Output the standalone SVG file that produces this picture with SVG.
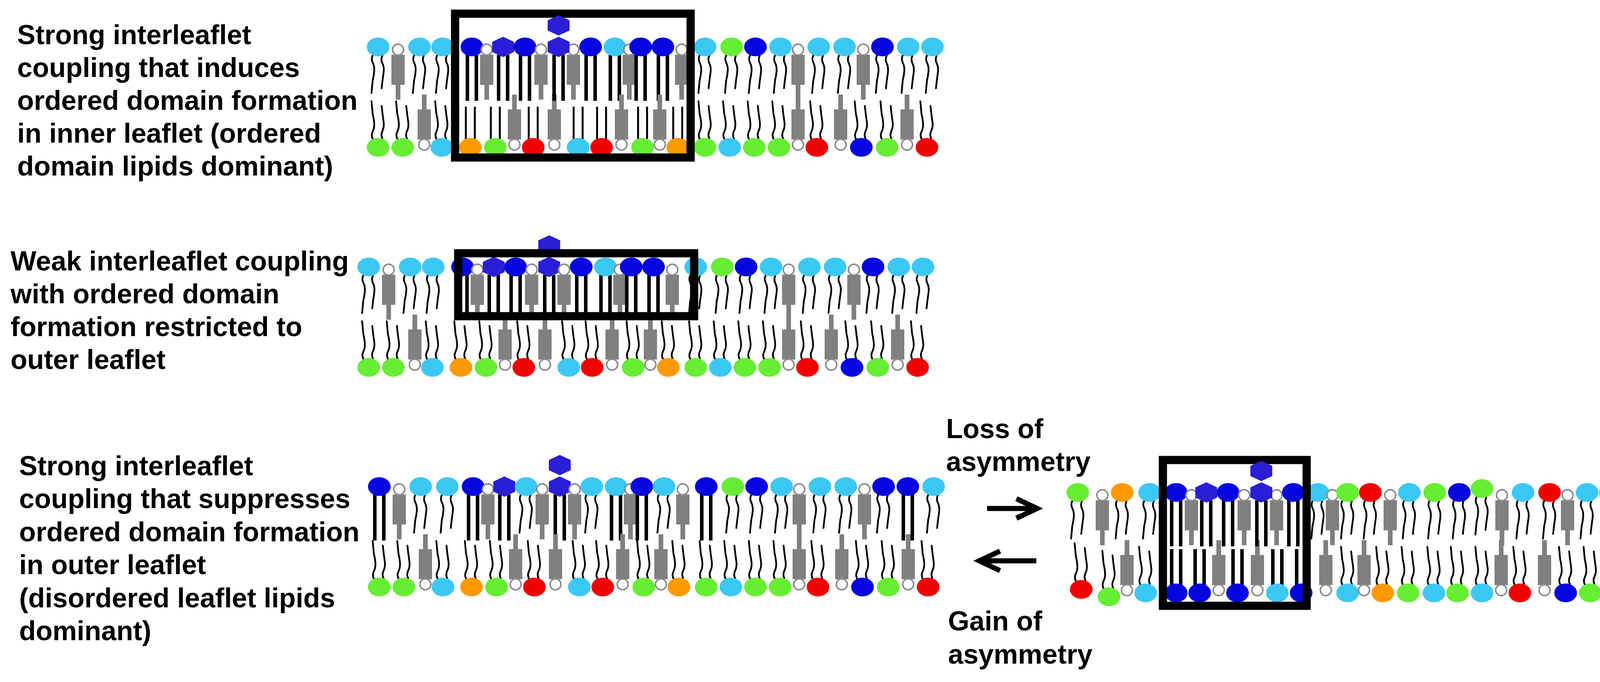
<svg xmlns="http://www.w3.org/2000/svg" xmlns:xlink="http://www.w3.org/1999/xlink" width="4249" height="1745" viewBox="0 0 4249 1745">
<style>
.lb{fill:#3cc8f4}.db{fill:#0505e0}.g{fill:#66ee33}.r{fill:#f20000}.o{fill:#ff9a00}
.t{font-family:"Liberation Sans",Arial,sans-serif;font-weight:bold;font-size:70px;fill:#000}
.tail{fill:none;stroke:#000;stroke-width:4.5;stroke-linecap:round}
.box{fill:none;stroke:#000;stroke-width:21}
.arr{fill:none;stroke:#000;stroke-width:13}
</style>
<defs>
<g id="D"><path class="tail" d="M-13,20 q-6,10 -1,20 t4,22 t-4,24 l-3,32"/><path class="tail" d="M11,22 q-5,10 0,20 t3,24 t-3,22 l-2,18"/><ellipse rx="29" ry="24"/></g>
<g id="O"><rect x="-16" y="20" width="9" height="118" fill="#000"/><rect x="7" y="20" width="9" height="118" fill="#000"/><ellipse rx="29" ry="24"/></g>
<g id="Os"><rect x="-16" y="20" width="9" height="97" fill="#000"/><rect x="7" y="20" width="9" height="97" fill="#000"/><ellipse rx="29" ry="24"/></g>
<g id="Oi"><rect x="-14" y="18" width="5" height="86" fill="#000"/><rect x="9" y="18" width="5" height="86" fill="#000"/><ellipse rx="29" ry="24"/></g>
<g id="Oi2"><rect x="-16" y="20" width="9" height="92" fill="#000"/><rect x="7" y="20" width="9" height="92" fill="#000"/><ellipse rx="29" ry="24"/></g>
<g id="C"><rect x="-17" y="20" width="34" height="77" fill="#808080"/><rect x="-6" y="97" width="12" height="38" fill="#808080"/><circle cy="7" r="14" fill="#fff" stroke="#8c8c8c" stroke-width="4"/></g>
<polygon id="hx" points="0,-26 28,-13 28,13 0,26 -28,13 -28,-13" fill="#2a1ed6"/>
<g id="X"><rect x="-16" y="20" width="9" height="118" fill="#000"/><rect x="7" y="20" width="9" height="118" fill="#000"/><use href="#hx"/></g>
<g id="Xs"><rect x="-16" y="20" width="9" height="97" fill="#000"/><rect x="7" y="20" width="9" height="97" fill="#000"/><use href="#hx"/></g>
<g id="XX"><use href="#X"/><use href="#hx" y="-55"/></g>
<g id="XXs"><use href="#Xs"/><use href="#hx" y="-55"/></g>
</defs>

<g id="labels">
<text class="t" x="44" y="113">Strong interleaflet</text>
<text class="t" x="44" y="197">coupling that induces</text>
<text class="t" x="44" y="281">ordered domain formation</text>
<text class="t" x="44" y="365">in inner leaflet (ordered</text>
<text class="t" x="44" y="449">domain lipids dominant)</text>
<text class="t" x="27" y="692">Weak interleaflet coupling</text>
<text class="t" x="27" y="776">with ordered domain</text>
<text class="t" x="27" y="860">formation restricted to</text>
<text class="t" x="27" y="944">outer leaflet</text>
<text class="t" x="49" y="1216">Strong interleaflet</text>
<text class="t" x="49" y="1300">coupling that suppresses</text>
<text class="t" x="49" y="1385">ordered domain formation</text>
<text class="t" x="49" y="1469">in outer leaflet</text>
<text class="t" x="49" y="1554">(disordered leaflet lipids</text>
<text class="t" x="49" y="1638">dominant)</text>
<text class="t" x="2422" y="1121">Loss of</text>
<text class="t" x="2422" y="1205">asymmetry</text>
<text class="t" x="2427" y="1613">Gain of</text>
<text class="t" x="2427" y="1698">asymmetry</text>
</g>

<g id="membrane1">
<g id="m1-top" transform="translate(0,120)">
<use href="#D" x="968" class="lb"/><use href="#C" x="1019"/><use href="#D" x="1074" class="lb"/><use href="#D" x="1133" class="lb"/>
<use href="#O" x="1208" class="db"/><use href="#C" x="1246"/><use href="#X" x="1288"/><use href="#O" x="1344" class="db"/><use href="#C" x="1385"/>
<use href="#C" x="1468"/><use href="#O" x="1512" class="db"/><use href="#O" x="1574" class="lb"/><use href="#C" x="1611"/><use href="#O" x="1640" class="db"/><use href="#O" x="1697" class="db"/><use href="#C" x="1745"/>
<use href="#D" x="1805" class="lb"/><use href="#D" x="1873" class="g"/><use href="#D" x="1934" class="db"/><use href="#D" x="1998" class="lb"/><use href="#C" x="2043"/><use href="#D" x="2096" class="lb"/><use href="#D" x="2162" class="lb"/><use href="#C" x="2210"/><use href="#D" x="2259" class="db"/><use href="#D" x="2325" class="lb"/><use href="#D" x="2387" class="lb"/>
</g>
<g id="m1-bot" transform="translate(0,377) scale(1,-1)">
<use href="#D" x="968" class="g"/><use href="#D" x="1031" class="g"/><use href="#C" x="1086"/><use href="#D" x="1131" class="lb"/>
<use href="#Oi" x="1204" class="o"/><use href="#Oi" x="1268" class="g"/><use href="#C" x="1317"/><use href="#Oi" x="1365" class="r"/><use href="#C" x="1419"/><use href="#Oi" x="1480" class="lb"/><use href="#Oi" x="1540" class="r"/><use href="#C" x="1591"/><use href="#Oi" x="1645" class="g"/><use href="#C" x="1689"/><use href="#Oi" x="1735" class="o"/>
<use href="#D" x="1805" class="g"/><use href="#D" x="1868" class="lb"/><use href="#D" x="1931" class="g"/><use href="#D" x="1994" class="g"/><use href="#C" x="2043"/><use href="#D" x="2091" class="r"/><use href="#C" x="2152"/><use href="#D" x="2205" class="db"/><use href="#D" x="2271" class="g"/><use href="#C" x="2322"/><use href="#D" x="2373" class="r"/>
</g>
<rect class="box" x="1165" y="35" width="603" height="368"/>
<use href="#XX" x="1430" y="120"/>
</g>

<g id="membrane2" transform="translate(-24,563)">
<g transform="translate(0,120)">
<use href="#D" x="968" class="lb"/><use href="#C" x="1019"/><use href="#D" x="1074" class="lb"/><use href="#D" x="1133" class="lb"/>
<use href="#Os" x="1208" class="db"/><use href="#C" x="1246"/><use href="#Xs" x="1288"/><use href="#Os" x="1344" class="db"/><use href="#C" x="1385"/><use href="#XXs" x="1430"/>
<use href="#C" x="1468"/><use href="#Os" x="1512" class="db"/><use href="#Os" x="1574" class="lb"/><use href="#C" x="1611"/><use href="#Os" x="1640" class="db"/><use href="#Os" x="1697" class="db"/><use href="#C" x="1745"/>
<use href="#D" x="1805" class="lb"/><use href="#D" x="1873" class="g"/><use href="#D" x="1934" class="db"/><use href="#D" x="1998" class="lb"/><use href="#C" x="2043"/><use href="#D" x="2096" class="lb"/><use href="#D" x="2162" class="lb"/><use href="#C" x="2210"/><use href="#D" x="2259" class="db"/><use href="#D" x="2325" class="lb"/><use href="#D" x="2387" class="lb"/>
</g>
<g transform="translate(0,377) scale(1,-1)">
<use href="#D" x="968" class="g"/><use href="#D" x="1031" class="g"/><use href="#C" x="1086"/><use href="#D" x="1131" class="lb"/>
<use href="#D" x="1204" class="o"/><use href="#D" x="1268" class="g"/><use href="#C" x="1317"/><use href="#D" x="1365" class="r"/><use href="#C" x="1419"/><use href="#D" x="1480" class="lb"/><use href="#D" x="1540" class="r"/><use href="#C" x="1591"/><use href="#D" x="1645" class="g"/><use href="#C" x="1689"/><use href="#D" x="1735" class="o"/>
<use href="#D" x="1805" class="g"/><use href="#D" x="1868" class="lb"/><use href="#D" x="1931" class="g"/><use href="#D" x="1994" class="g"/><use href="#C" x="2043"/><use href="#D" x="2091" class="r"/><use href="#C" x="2152"/><use href="#D" x="2205" class="db"/><use href="#D" x="2271" class="g"/><use href="#C" x="2322"/><use href="#D" x="2373" class="r"/>
</g>
<rect class="box" x="1197" y="85" width="604" height="161" stroke-width="22"/>
</g>

<g id="membrane3" transform="translate(3,1125)">
<g transform="translate(0,120)">
<use href="#O" x="968" class="db"/><use href="#C" x="1019"/><use href="#D" x="1074" class="lb"/><use href="#D" x="1142" class="lb"/>
<use href="#O" x="1208" class="db"/><use href="#C" x="1246"/><use href="#X" x="1288"/><use href="#D" x="1344" class="lb"/><use href="#C" x="1385"/><use href="#XX" x="1430"/>
<use href="#C" x="1468"/><use href="#D" x="1512" class="lb"/><use href="#O" x="1574" class="lb"/><use href="#C" x="1611"/><use href="#O" x="1640" class="db"/><use href="#D" x="1697" class="lb"/><use href="#C" x="1745"/>
<use href="#O" x="1805" class="db"/><use href="#D" x="1873" class="g"/><use href="#D" x="1934" class="db"/><use href="#D" x="1998" class="lb"/><use href="#C" x="2043"/><use href="#D" x="2096" class="lb"/><use href="#D" x="2162" class="lb"/><use href="#C" x="2210"/><use href="#D" x="2259" class="db"/><use href="#O" x="2321" class="db"/><use href="#D" x="2387" class="lb"/>
</g>
<g transform="translate(0,377) scale(1,-1)">
<use href="#D" x="968" class="g"/><use href="#D" x="1031" class="g"/><use href="#C" x="1086"/><use href="#D" x="1131" class="lb"/>
<use href="#D" x="1204" class="o"/><use href="#D" x="1268" class="g"/><use href="#C" x="1317"/><use href="#D" x="1365" class="r"/><use href="#C" x="1419"/><use href="#D" x="1480" class="lb"/><use href="#D" x="1540" class="r"/><use href="#C" x="1591"/><use href="#D" x="1645" class="g"/><use href="#C" x="1689"/><use href="#D" x="1735" class="o"/>
<use href="#D" x="1805" class="g"/><use href="#D" x="1868" class="lb"/><use href="#D" x="1931" class="g"/><use href="#D" x="1994" class="g"/><use href="#C" x="2043"/><use href="#D" x="2091" class="r"/><use href="#C" x="2152"/><use href="#D" x="2205" class="db"/><use href="#D" x="2271" class="g"/><use href="#C" x="2322"/><use href="#D" x="2373" class="r"/>
</g>
</g>

<g id="membrane4">
<g transform="translate(0,1260)">
<use href="#D" x="2759" class="g"/><use href="#C" x="2822"/><use href="#D" x="2873" class="o"/><use href="#D" x="2943" class="lb"/>
<use href="#O" x="3011" class="db"/><use href="#C" x="3050"/><use href="#X" x="3088"/><use href="#O" x="3144" class="db"/><use href="#C" x="3185"/>
<use href="#C" x="3268"/><use href="#O" x="3311" class="db"/>
<use href="#D" x="3374" class="lb"/><use href="#C" x="3411"/><use href="#D" x="3450" class="g"/><use href="#D" x="3508" class="r"/><use href="#C" x="3559"/><use href="#D" x="3608" class="lb"/><use href="#D" x="3673" class="g"/><use href="#D" x="3736" class="db"/><use href="#D" x="3794" y="-10" class="g"/><use href="#C" x="3845"/><use href="#D" x="3899" class="lb"/><use href="#D" x="3967" class="r"/><use href="#C" x="4013"/><use href="#D" x="4063" class="lb"/><use href="#D" x="4122" class="g"/><use href="#D" x="4187" class="lb"/>
</g>
<g transform="translate(0,1517) scale(1,-1)">
<use href="#D" x="2768" y="9" class="r"/><use href="#D" x="2839" y="-10" class="g"/><use href="#C" x="2885"/><use href="#D" x="2933" class="lb"/>
<use href="#Oi2" x="3011" class="db"/><use href="#Oi2" x="3071" class="db"/><use href="#C" x="3120"/><use href="#Oi2" x="3168" class="db"/><use href="#C" x="3219"/><use href="#Oi2" x="3270" class="lb"/><use href="#Oi2" x="3331" class="db"/>
<use href="#C" x="3394"/><use href="#D" x="3450" class="lb"/><use href="#C" x="3492"/><use href="#D" x="3540" class="o"/><use href="#D" x="3605" class="g"/><use href="#D" x="3671" class="lb"/><use href="#D" x="3731" class="g"/><use href="#D" x="3794" class="lb"/><use href="#C" x="3843"/><use href="#D" x="3891" class="r"/><use href="#C" x="3954"/><use href="#D" x="4008" class="db"/><use href="#D" x="4071" class="g"/><use href="#C" x="4122"/><use href="#D" x="4182" class="lb"/>
</g>
<rect class="box" x="2977" y="1177" width="368" height="373" stroke-width="20"/>
<use href="#XX" x="3229" y="1260"/>
</g>

<g id="connectors">
<path class="arr" d="M2527,1301 H2652 M2602,1276 L2655,1301 L2602,1326"/>
<path class="arr" d="M2653,1435 H2510 M2560,1410 L2507,1435 L2560,1460"/>
</g>
</svg>
